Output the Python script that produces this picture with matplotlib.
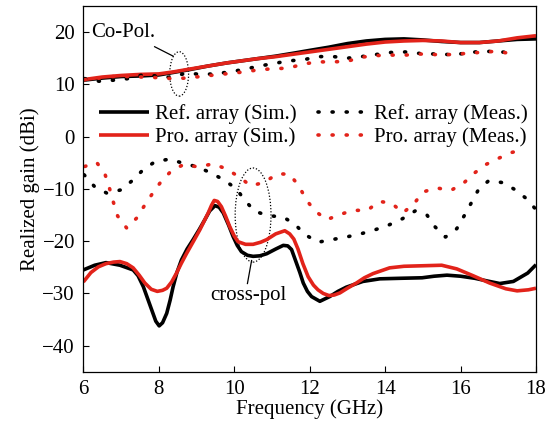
import matplotlib
matplotlib.use("Agg")
import matplotlib.pyplot as plt
from matplotlib.patches import Ellipse

plt.rcParams['font.family'] = ['Liberation Serif', 'DejaVu Serif']

# ---- co-polarisation, simulated ----
f_co_sim = [6.0, 6.5, 7.0, 7.5, 8.0, 8.4, 8.8, 9.3, 9.8, 10.2, 10.6, 11.1, 11.6,
            12.0, 12.5, 13.0, 13.5, 14.0, 14.5, 15.0, 15.5, 16.0, 16.5, 17.0, 17.5, 18.0]
ref_co_sim = [10.8, 11.2, 11.5, 11.6, 11.8, 12.3, 12.8, 13.5, 14.1, 14.5, 14.9, 15.4, 16.0,
              16.5, 17.1, 17.8, 18.3, 18.6, 18.7, 18.5, 18.2, 18.0, 18.0, 18.3, 18.6, 18.7]
pro_co_sim = [10.9, 11.4, 11.7, 11.9, 12.0, 12.4, 12.9, 13.5, 14.1, 14.5, 14.9, 15.3, 15.8,
              16.2, 16.7, 17.2, 17.7, 18.1, 18.3, 18.4, 18.3, 18.0, 18.0, 18.3, 18.9, 19.3]

# ---- co-polarisation, measured ----
f_co_meas = [6.03, 6.42, 6.8, 7.19, 7.57, 7.94, 8.34, 8.73, 9.1, 9.48, 9.9, 10.28, 10.66,
             11.06, 11.44, 11.83, 12.22, 12.59, 12.99, 13.37, 13.75, 14.15, 14.53, 14.94,
             15.33, 15.73, 16.11, 16.49, 16.88, 17.26]
ref_co_meas = [11.1, 10.6, 10.8, 11.1, 11.8, 11.6, 11.3, 12.2, 11.9, 12.0, 12.4, 12.9, 13.5,
               14.0, 14.5, 14.7, 15.3, 15.35, 15.0, 15.3, 15.7, 16.1, 16.2, 15.9,
               15.8, 15.7, 15.9, 16.3, 16.3, 16.1]
pro_co_meas = [10.9, 11.2, 11.5, 11.5, 11.4, 11.3, 11.1, 11.2, 11.5, 11.8, 12.1, 12.4, 12.8,
               13.0, 13.1, 13.9, 14.3, 14.3, 14.4, 15.2, 15.5, 15.6, 15.6, 15.8,
               15.7, 15.7, 15.9, 16.1, 16.3, 16.0]

# ---- cross-polarisation, simulated ----
f_ref_x_sim = [6.0, 6.3, 6.6, 6.97, 7.32, 7.45, 7.59, 7.7, 7.81, 7.92, 8.01, 8.1, 8.21,
               8.3, 8.38, 8.48, 8.6, 8.75, 8.91, 9.07, 9.22, 9.35, 9.49, 9.6, 9.71, 9.85,
               9.97, 10.08, 10.19, 10.35, 10.5, 10.68, 10.86, 11.1, 11.3, 11.42, 11.52,
               11.62, 11.74, 11.83, 11.94, 12.05, 12.27, 12.53, 12.75, 12.97, 13.41,
               13.86, 14.39, 14.98, 15.3, 15.64, 16.0, 16.38, 16.7, 17.04, 17.4, 17.78, 18.0]
ref_x_sim = [-25.5, -24.6, -24.1, -24.6, -25.5, -26.6, -28.7, -30.9, -33.1, -35.3, -36.2,
             -35.6, -33.8, -31.3, -28.7, -26.0, -23.6, -21.5, -19.7, -17.8, -15.9, -14.2,
             -13.2, -13.5, -14.6, -16.9, -19.1, -20.8, -22.0, -22.7, -22.9, -22.8, -22.4,
             -21.5, -20.8, -20.9, -21.6, -23.6, -26.0, -28.0, -29.6, -30.6, -31.5, -30.6,
             -29.6, -28.8, -27.7, -27.2, -27.1, -27.0, -26.7, -26.5, -26.7, -27.1, -27.6,
             -28.1, -27.7, -26.1, -24.5]
f_pro_x_sim = [6.0, 6.2, 6.4, 6.6, 6.8, 6.97, 7.15, 7.32, 7.48, 7.63, 7.8, 7.96, 8.1, 8.21,
               8.34, 8.47, 8.6, 8.74, 8.92, 9.09, 9.2, 9.31, 9.4, 9.47, 9.56, 9.66, 9.77,
               9.88, 10.0, 10.1, 10.3, 10.5, 10.7, 10.86, 11.1, 11.34, 11.47, 11.58, 11.69,
               11.82, 11.96, 12.1, 12.22, 12.36, 12.51, 12.65, 12.8, 13.0, 13.24, 13.45,
               13.68, 14.12, 14.5, 15.0, 15.5, 15.9, 16.33, 16.77, 17.2, 17.5, 17.8, 18.0]
pro_x_sim = [-27.8, -26.0, -24.9, -24.3, -24.0, -23.9, -24.3, -25.1, -26.5, -28.0, -29.2,
             -29.6, -29.4, -29.0, -27.8, -26.1, -24.2, -22.3, -20.0, -17.8, -16.2, -14.6,
             -13.1, -12.2, -12.4, -13.4, -15.2, -17.2, -19.0, -20.1, -20.6, -20.6, -20.2,
             -19.7, -18.6, -18.0, -18.6, -19.6, -21.5, -24.3, -26.8, -28.4, -29.3, -30.0,
             -30.4, -30.3, -29.9, -29.0, -28.0, -27.0, -26.2, -25.1, -24.8, -24.7, -24.6,
             -25.3, -26.6, -28.0, -29.1, -29.5, -29.3, -29.0]

# ---- cross-polarisation, measured ----
f_ref_x_meas = [6.02, 6.29, 6.62, 6.99, 7.3, 7.59, 7.9, 8.28, 8.65, 9.03, 9.4, 9.73, 10.06,
                10.28, 10.55, 10.9, 11.3, 11.6, 11.87, 12.22, 12.59, 12.97, 13.35, 13.74,
                14.1, 14.46, 14.8, 15.11, 15.33, 15.6, 15.9, 16.1, 16.29, 16.47, 16.75,
                17.12, 17.41, 17.72, 17.97]
ref_x_meas = [-7.3, -9.5, -10.8, -10.2, -8.4, -6.3, -4.8, -4.3, -5.1, -5.8, -7.0, -8.3, -10.0,
              -12.2, -14.3, -15.1, -15.4, -16.7, -18.7, -20.2, -19.7, -19.2, -18.6, -17.8,
              -16.9, -15.7, -14.2, -15.0, -17.3, -19.2, -17.6, -15.1, -12.6, -10.2, -8.4,
              -8.8, -10.0, -11.7, -13.7]
f_pro_x_meas = [6.04, 6.35, 6.57, 6.69, 6.79, 6.91, 7.15, 7.41, 7.61, 7.84, 8.06, 8.34, 8.67,
                9.04, 9.44, 9.8, 10.17, 10.43, 10.78, 11.15, 11.47, 11.72, 11.91, 12.14,
                12.45, 12.8, 13.15, 13.53, 13.84, 14.17, 14.47, 14.77, 15.0, 15.36, 15.74,
                16.08, 16.36, 16.68, 17.02, 17.37, 17.72]
pro_x_meas = [-5.7, -4.9, -7.1, -9.8, -12.4, -15.2, -17.5, -15.6, -13.3, -10.8, -8.6, -6.5, -5.3,
              -5.8, -5.2, -6.2, -7.9, -9.4, -8.8, -7.1, -7.2, -9.5, -12.1, -14.2,
              -15.9, -14.9, -14.1, -14.1, -12.4, -12.7, -14.6, -12.8, -10.6, -9.8, -10.3,
              -8.9, -7.0, -5.3, -4.1, -3.0, -2.4]

RED = '#e2231a'
LW = 2.6
SOLID = dict(lw=LW, solid_joinstyle='round', solid_capstyle='butt')
DOTS = dict(linestyle=(0, (0.3, 3.6)), dash_capstyle='round', lw=LW)

fig = plt.figure(figsize=(5.52, 4.25), dpi=100)
ax = fig.add_axes([0.151, 0.125, 0.820, 0.861])

# simulated (solid)
ax.plot(f_co_sim, ref_co_sim, color='k', label='Ref. array (Sim.)', **SOLID)
ax.plot(f_co_sim, pro_co_sim, color=RED, label='Pro. array (Sim.)', **SOLID)
ax.plot(f_ref_x_sim, ref_x_sim, color='k', **SOLID)
ax.plot(f_pro_x_sim, pro_x_sim, color=RED, **SOLID)

# measured (dotted)
ax.plot(f_co_meas, ref_co_meas, color='k', label='Ref. array (Meas.)', **DOTS)
ax.plot(f_co_meas, pro_co_meas, color=RED, label='Pro. array (Meas.)', **DOTS)
ax.plot(f_ref_x_meas, ref_x_meas, color='k', **DOTS)
ax.plot(f_pro_x_meas, pro_x_meas, color=RED, **DOTS)

# callouts
ax.add_patch(Ellipse((8.54, 12.0), 0.5, 8.5, fill=False, ec='k', lw=0.9, ls=(0, (1, 1.5))))
ax.plot([7.89, 8.38], [17.2, 15.4], color='k', lw=0.9)
ax.text(6.2, 19.9, 'Co-Pol.', fontsize=15, va='center', ha='left')

ax.add_patch(Ellipse((10.5, -15.0), 0.95, 18.0, fill=False, ec='k', lw=0.9, ls=(0, (1, 1.5))))
ax.plot([10.46, 10.35], [-23.7, -28.1], color='k', lw=0.9)
ax.text(10.38, -30.3, 'cross-pol', fontsize=15, va='center', ha='center')

ax.legend(ncol=2, frameon=False,
          loc='center left', bbox_to_anchor=(0.035, 0.672), fontsize=15,
          handlelength=2.4, handletextpad=0.3, columnspacing=1.0,
          labelspacing=0.15, borderaxespad=0, borderpad=0)

ax.set_xlim(6, 18)
ax.set_ylim(-45, 25)
ax.set_xticks([6, 8, 10, 12, 14, 16, 18])
ax.set_yticks([-40, -30, -20, -10, 0, 10, 20])
ax.tick_params(direction='in', length=4, width=0.8, labelsize=15, pad=6)
for s in ax.spines.values():
    s.set_linewidth(0.9)

ax.set_xlabel('Frequency (GHz)', fontsize=15, labelpad=0)
ax.set_ylabel('Realized gain (dBi)', fontsize=15, labelpad=2)

fig.savefig('out.png', dpi=100)
